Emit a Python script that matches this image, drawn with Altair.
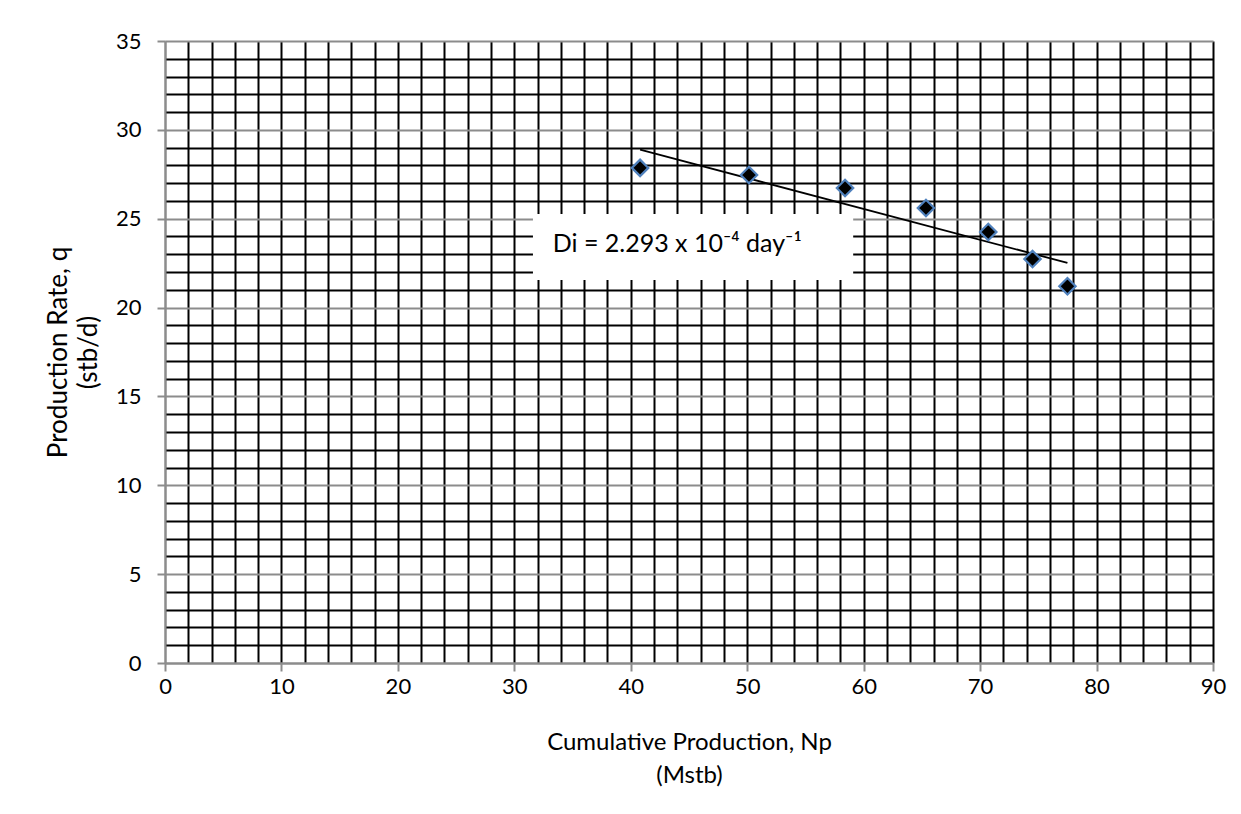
import altair as alt
import pandas as pd

# Data
np_cum = [40.8, 50.15, 58.4, 65.35, 70.7, 74.5, 77.5]      # Cumulative production, Mstb
rate = [27.86, 27.46, 26.73, 25.6, 24.25, 22.73, 21.2]     # Production rate, stb/d

x_grid = list(range(0, 91, 2))
y_grid = list(range(0, 36, 1))

box_x = [31.6, 59.1]
box_y = [21.55, 25.27]
label_text = ["Di = 2.293 x 10\u207b\u2074 day\u207b\u00b9"]
label_x = [33.3]
label_y = [23.15]

FONT = "Lato"
GRAY = "#8c8c8c"

df = pd.DataFrame({"Np": np_cum, "q": rate})
box_df = pd.DataFrame({"Np": [box_x[0]], "Np2": [box_x[1]], "q": [box_y[0]], "q2": [box_y[1]]})
lab_df = pd.DataFrame({"Np": label_x, "q": label_y, "t": label_text})

x_scale = alt.Scale(domain=[0, 90], nice=False, zero=False)
y_scale = alt.Scale(domain=[0, 35], nice=False, zero=False)

x_axis = alt.Axis(
    values=x_grid,
    labelExpr="datum.value % 10 === 0 ? datum.label : ''",
    labelOverlap=False, labelFlush=False, labelBound=False,
    labelFont=FONT, labelFontSize=22, labelColor="black", labelPadding=5,
    tickSize=8, tickColor=GRAY, tickWidth=2,
    tickOpacity=alt.condition("datum.value % 10 === 0", alt.value(1), alt.value(0)),
    grid=True, gridWidth=2,
    gridColor=alt.condition("datum.value === 0", alt.value(GRAY), alt.value("black")),
    domainColor=GRAY, domainWidth=2,
    title=["Cumulative Production, Np", "(Mstb)"],
    titleFont=FONT, titleFontSize=24, titleFontWeight="normal", titleColor="black",
    titleBaseline="alphabetic", titleY=86, titleLineHeight=33,
)
y_axis = alt.Axis(
    values=y_grid,
    labelExpr="datum.value % 5 === 0 ? datum.label : ''",
    labelOverlap=False, labelFlush=False, labelBound=False,
    labelFont=FONT, labelFontSize=22, labelColor="black", labelPadding=16,
    tickSize=8, tickColor=GRAY, tickWidth=2,
    tickOpacity=alt.condition("datum.value % 5 === 0", alt.value(1), alt.value(0)),
    grid=True, gridWidth=2,
    gridColor=alt.condition("datum.value % 5 === 0", alt.value(GRAY), alt.value("black")),
    domainColor=GRAY, domainWidth=2,
    title=["Production Rate, q", "(stb/d)"],
    titleFont=FONT, titleFontSize=26, titleFontWeight="normal", titleColor="black",
    titlePadding=14, titleLineHeight=30,
)

X = alt.X("Np:Q", scale=x_scale, axis=x_axis)
Y = alt.Y("q:Q", scale=y_scale, axis=y_axis)

box = alt.Chart(box_df).mark_rect(color="white", opacity=1).encode(
    x=X, x2="Np2:Q", y=Y, y2="q2:Q"
)

label = alt.Chart(lab_df).mark_text(
    align="left", baseline="alphabetic", font=FONT, fontSize=25, color="black"
).encode(x=X, y=Y, text="t:N")

trend = alt.Chart(df).transform_regression("Np", "q").mark_line(
    color="black", strokeWidth=1.8
).encode(x=X, y=Y)

points = alt.Chart(df).mark_point(
    shape="diamond", filled=True, fill="black", size=270,
    stroke="#4F81BD", strokeWidth=2.2, opacity=1
).encode(x=X, y=Y)

chart = alt.layer(box, label, trend, points).properties(
    width=1048, height=622,
    autosize=alt.AutoSizeParams(type="none"),
    padding={"left": 157, "top": 33, "right": 20, "bottom": 130},
    background="white",
).configure_view(stroke=None)

chart.save("out.html", embed_options={"renderer": "svg", "actions": False})
